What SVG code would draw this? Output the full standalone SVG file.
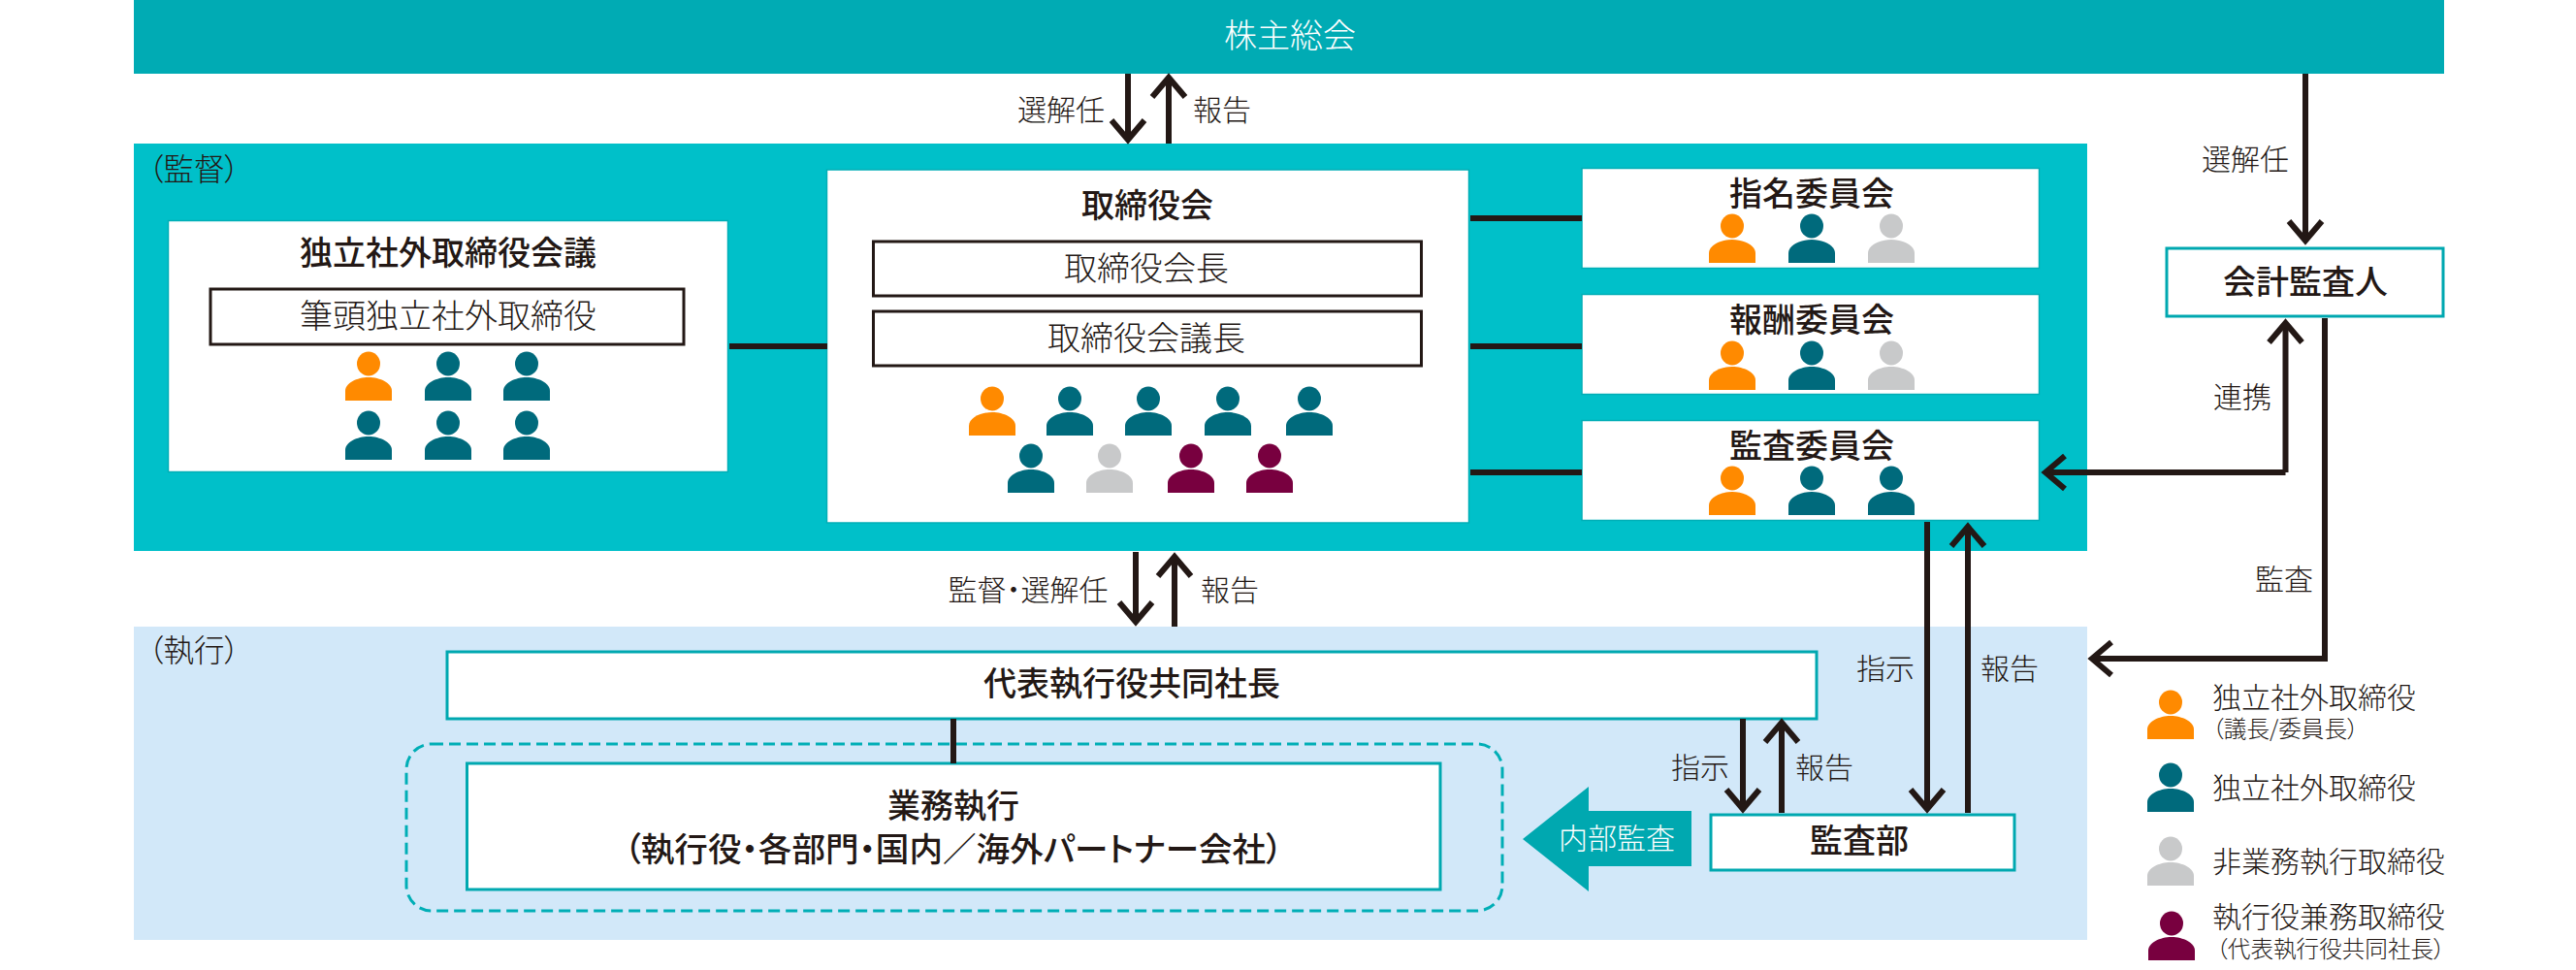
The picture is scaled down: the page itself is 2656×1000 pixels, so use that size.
<svg xmlns="http://www.w3.org/2000/svg" width="2656" height="1000" viewBox="0 0 2656 1000">
<style>
text{font-family:"Noto Sans CJK JP","Noto Sans",sans-serif;fill:#231815;text-anchor:middle;font-feature-settings:"palt";font-weight:300}
.b{font-weight:500;font-size:34px}
.bl{font-weight:500;font-size:34.6px}
.n{font-size:34px}
.l{font-size:30px}
.h{font-size:31.5px}
.s{font-size:23.6px;text-anchor:start}
.ls{font-size:30px;text-anchor:start}
.w{fill:#fff}
.box{fill:#fff;stroke:#00a8b0;stroke-width:3}
.pbox{fill:#fff;stroke:#00aeb6;stroke-width:1.5}
.ibox{fill:#fff;stroke:#231815;stroke-width:3}
.o{fill:#ff8a00}.t{fill:#006a7c}.g{fill:#c8c9ca}.m{fill:#78003f}
.c{fill:none;stroke:#231815;stroke-width:6}
.a{marker-end:url(#ah)}
</style>
<defs>
<marker id="ah" markerUnits="userSpaceOnUse" markerWidth="60" markerHeight="60" viewBox="-30 -30 60 60" refX="0" refY="0" orient="auto" overflow="visible">
<path d="M-20,-17 L0,0 L-20,17" fill="none" stroke="#231815" stroke-width="6"/>
</marker>
<g id="p"><ellipse cx="0" cy="0" rx="12" ry="12.4"/><path d="M-24,38 V28 C-24,20 -12,14 0,14 C12,14 24,20 24,28 V38 Z"/></g>
</defs>
<rect id="panel-exec" x="138" y="646" width="2014" height="323" fill="#d2e8f9"/>
<rect id="panel-super" x="138" y="148" width="2014" height="420" fill="#00c0c9"/>
<g id="shareholders"><rect x="138" y="0" width="2382" height="76" fill="#00abb4"/><text class="n w" x="1330" y="49">株主総会</text></g>
<text class="h" x="200" y="186">（監督）</text>
<text class="h" x="200" y="682">（執行）</text>
<g id="independent-council">
<rect class="pbox" x="173.500" y="227.500" width="577" height="259"/>
<text class="b" x="462" y="273">独立社外取締役会議</text>
<rect class="ibox" x="217" y="298" width="488" height="57"/>
<text class="n" x="462" y="338">筆頭独立社外取締役</text>
<use href="#p" class="o" x="380" y="375"/><use href="#p" class="t" x="462" y="375"/><use href="#p" class="t" x="543" y="375"/>
<use href="#p" class="t" x="380" y="436"/><use href="#p" class="t" x="462" y="436"/><use href="#p" class="t" x="543" y="436"/>
</g>
<g id="board">
<rect class="pbox" x="852.500" y="175" width="662" height="364"/>
<text class="b" x="1183" y="224">取締役会</text>
<rect class="ibox" x="900.500" y="249" width="565" height="56"/>
<text class="n" x="1182" y="289">取締役会長</text>
<rect class="ibox" x="900.500" y="321" width="565" height="56"/>
<text class="n" x="1182" y="361">取締役会議長</text>
<use href="#p" class="o" x="1023" y="411"/><use href="#p" class="t" x="1103" y="411"/><use href="#p" class="t" x="1184" y="411"/><use href="#p" class="t" x="1266" y="411"/><use href="#p" class="t" x="1350" y="411"/>
<use href="#p" class="t" x="1063" y="470"/><use href="#p" class="g" x="1144" y="470"/><use href="#p" class="m" x="1228" y="470"/><use href="#p" class="m" x="1309" y="470"/>
</g>
<g id="nomination">
<rect class="pbox" x="1631" y="173.500" width="471.500" height="103"/>
<text class="b" x="1868" y="212">指名委員会</text>
<use href="#p" class="o" x="1786" y="233"/><use href="#p" class="t" x="1868" y="233"/><use href="#p" class="g" x="1950" y="233"/>
</g>
<g id="compensation">
<rect class="pbox" x="1631" y="303.500" width="471.500" height="103"/>
<text class="b" x="1868" y="342">報酬委員会</text>
<use href="#p" class="o" x="1786" y="364"/><use href="#p" class="t" x="1868" y="364"/><use href="#p" class="g" x="1950" y="364"/>
</g>
<g id="audit-committee">
<rect class="pbox" x="1631" y="433.500" width="471.500" height="103"/>
<text class="b" x="1868" y="472">監査委員会</text>
<use href="#p" class="o" x="1786" y="493"/><use href="#p" class="t" x="1868" y="493"/><use href="#p" class="t" x="1950" y="493"/>
</g>
<g id="auditor">
<rect class="box" x="2234" y="256" width="285" height="70"/>
<text class="b" x="2377" y="303">会計監査人</text>
</g>
<g id="ceo">
<rect class="box" x="461" y="672" width="1412" height="69"/>
<text class="b" x="1167" y="717">代表執行役共同社長</text>
</g>
<rect id="business-group" x="419" y="767" width="1130" height="172" rx="26" fill="none" stroke="#00aeb6" stroke-width="3" stroke-dasharray="12 6"/>
<g id="business">
<rect class="box" x="481.500" y="787" width="1003.500" height="130"/>
<text class="b" x="983" y="843">業務執行</text>
<text class="bl" x="983" y="888">（執行役・各部門・国内／海外パートナー会社）</text>
</g>
<g id="internal-audit">
<path d="M1570,865 L1638,811 V836 H1744 V893 H1638 V919 Z" fill="#00a8b0"/>
<text class="l w" x="1667" y="875">内部監査</text>
</g>
<g id="audit-dept">
<rect class="box" x="1764" y="840" width="313" height="57"/>
<text class="b" x="1917" y="879">監査部</text>
</g>
<g id="connectors">
<path class="c" d="M752,357 H853"/>
<path class="c" d="M1516,225 H1631"/>
<path class="c" d="M1516,357 H1631"/>
<path class="c" d="M1516,487 H1631"/>
<path class="c" d="M983,741 V787"/>
<path class="c a" d="M1163,76 V144"/>
<path class="c a" d="M1205,148 V80"/>
<path class="c a" d="M2377,76 V248"/>
<path class="c a" d="M2356.500,487 V333"/>
<path class="c a" d="M2356.500,487 H2109"/>
<path class="c a" d="M2397,328 V679 H2157"/>
<path class="c a" d="M1171,569 V641"/>
<path class="c a" d="M1211,646 V574"/>
<path class="c a" d="M1987,538 V834"/>
<path class="c a" d="M2029,838 V543"/>
<path class="c a" d="M1797,741 V834"/>
<path class="c a" d="M1837,838 V745"/>
</g>
<g id="labels">
<text class="l" x="1094" y="124">選解任</text>
<text class="l" x="1260" y="124">報告</text>
<text class="l" x="2315" y="175">選解任</text>
<text class="l" x="2312" y="420">連携</text>
<text class="l" x="2355" y="608">監査</text>
<text class="l" x="1060" y="619">監督・選解任</text>
<text class="l" x="1268" y="619">報告</text>
<text class="l" x="1944" y="700">指示</text>
<text class="l" x="2072" y="700">報告</text>
<text class="l" x="1753" y="802">指示</text>
<text class="l" x="1881" y="802">報告</text>
</g>
<g id="legend">
<use href="#p" class="o" x="2238" y="724"/>
<text class="ls" x="2281" y="730">独立社外取締役</text>
<text class="s" x="2281" y="760">（議長/委員長）</text>
<use href="#p" class="t" x="2238" y="799"/>
<text class="ls" x="2281" y="823">独立社外取締役</text>
<use href="#p" class="g" x="2238" y="875"/>
<text class="ls" x="2281" y="899">非業務執行取締役</text>
<use href="#p" class="m" x="2239" y="952"/>
<text class="ls" x="2281" y="956">執行役兼務取締役</text>
<text class="s" x="2285" y="987">（代表執行役共同社長）</text>
</g>
</svg>
